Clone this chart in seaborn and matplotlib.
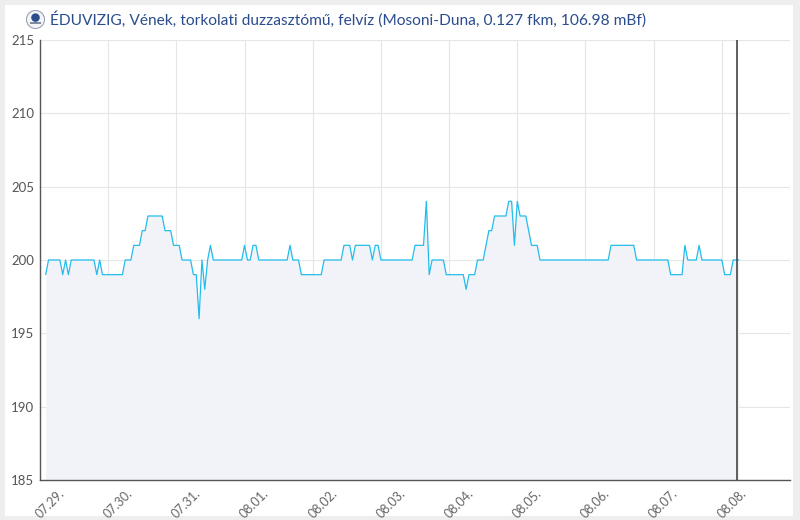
import matplotlib
matplotlib.use("Agg")
import matplotlib.pyplot as plt
import matplotlib.dates as mdates
import matplotlib.transforms as mtransforms
from matplotlib.patches import Rectangle, Circle
import numpy as np
import pandas as pd
import seaborn as sns

# ---- data ----
title = "ÉDUVIZIG, Vének, torkolati duzzasztómű, felvíz (Mosoni-Duna, 0.127 fkm, 106.98 mBf)"
start_time = "2024-07-29 02:00"
levels = [
    199, 200, 200, 200, 200, 200, 199, 200, 199, 200, 200, 200,
    200, 200, 200, 200, 200, 200, 199, 200, 199, 199, 199, 199,
    199, 199, 199, 199, 200, 200, 200, 201, 201, 201, 202, 202,
    203, 203, 203, 203, 203, 203, 202, 202, 202, 201, 201, 201,
    200, 200, 200, 200, 199, 199, 196, 200, 198, 200, 201, 200,
    200, 200, 200, 200, 200, 200, 200, 200, 200, 200, 201, 200,
    200, 201, 201, 200, 200, 200, 200, 200, 200, 200, 200, 200,
    200, 200, 201, 200, 200, 200, 199, 199, 199, 199, 199, 199,
    199, 199, 200, 200, 200, 200, 200, 200, 200, 201, 201, 201,
    200, 201, 201, 201, 201, 201, 201, 200, 201, 201, 200, 200,
    200, 200, 200, 200, 200, 200, 200, 200, 200, 200, 201, 201,
    201, 201, 204, 199, 200, 200, 200, 200, 200, 199, 199, 199,
    199, 199, 199, 199, 198, 199, 199, 199, 200, 200, 200, 201,
    202, 202, 203, 203, 203, 203, 203, 204, 204, 201, 204, 203,
    203, 203, 202, 201, 201, 201, 200, 200, 200, 200, 200, 200,
    200, 200, 200, 200, 200, 200, 200, 200, 200, 200, 200, 200,
    200, 200, 200, 200, 200, 200, 200, 201, 201, 201, 201, 201,
    201, 201, 201, 201, 200, 200, 200, 200, 200, 200, 200, 200,
    200, 200, 200, 200, 199, 199, 199, 199, 199, 201, 200, 200,
    200, 200, 201, 200, 200, 200, 200, 200, 200, 200, 200, 199,
    199, 199, 200, 200, 200,
]
tick_days = ["2024-07-29", "2024-07-30", "2024-07-31", "2024-08-01", "2024-08-02",
             "2024-08-03", "2024-08-04", "2024-08-05", "2024-08-06", "2024-08-07",
             "2024-08-08"]
tick_labels = ["07.29.", "07.30.", "07.31.", "08.01.", "08.02.", "08.03.",
               "08.04.", "08.05.", "08.06.", "08.07.", "08.08."]
x_start = "2024-07-29 00:00"
x_end = "2024-08-09 00:00"
now_time = "2024-08-08 05:20"
y_ticks = [185, 190, 195, 200, 205, 210, 215]

times = pd.date_range(start_time, periods=len(levels), freq="h")
df = pd.DataFrame({"time": times, "level": levels})

# ---- style ----
sns.set_style("white")
plt.rcParams["font.family"] = ["Lato", "DejaVu Sans"]

fig = plt.figure(figsize=(8, 5.2), dpi=100)
fig.patch.set_facecolor("#eeeeee")
card = Rectangle((5 / 800, 4 / 520), 788 / 800, 511 / 520,
                 transform=fig.transFigure, facecolor="white",
                 edgecolor="none", zorder=-10)
fig.patches.append(card)

ax = fig.add_axes([40 / 800, 40 / 520, 750 / 800, 440 / 520])
ax.set_zorder(2)
ax.set_facecolor("white")

line_color = "#22bdec"
ax.fill_between(df["time"], df["level"], 185, color="#f2f3f8", linewidth=0, zorder=1)
sns.lineplot(data=df, x="time", y="level", ax=ax, color=line_color, linewidth=0.9, zorder=3)

ax.set_xlim(pd.Timestamp(x_start), pd.Timestamp(x_end))
ax.set_ylim(185, 215)
ax.set_yticks(y_ticks)
ax.set_xticks([pd.Timestamp(d) for d in tick_days])
ax.set_xticklabels(tick_labels, rotation=45, ha="center")

ax.grid(True, color="#e6e6e6", linewidth=0.8, zorder=0)
ax.axvline(pd.Timestamp(x_end), color="#e6e6e6", linewidth=0.8, zorder=0)
ax.axvline(pd.Timestamp(now_time), color="#444444", linewidth=1.2, zorder=4)
ax.set_axisbelow(True)

for s in ["top", "right"]:
    ax.spines[s].set_visible(False)
for s in ["left", "bottom"]:
    ax.spines[s].set_color("#555555")
    ax.spines[s].set_linewidth(1.0)

ax.tick_params(axis="x", direction="in", length=6, width=0.8, color="#555555",
               labelsize=9, labelcolor="#666666", pad=5)
ax.tick_params(axis="y", direction="in", length=4, width=0.8, color="#555555",
               labelsize=9.5, labelcolor="#555555", pad=4)
ax.set_xlabel("")
ax.set_ylabel("")

offset = mtransforms.ScaledTranslation(10 / 100, 0, fig.dpi_scale_trans)
for tick in ax.xaxis.get_major_ticks():
    tick.label1.set_transform(tick.label1.get_transform() + offset)

# title + logo
fig.text(50 / 800, 1 - 19 / 520, title, fontsize=11.2, color="#2b4d8d",
         ha="left", va="center")
lax = fig.add_axes([26 / 800, 1 - 29 / 520, 19 / 800, 19 / 520])
lax.set_xlim(-1, 1)
lax.set_ylim(-1, 1)
lax.axis("off")
lax.add_patch(Circle((0, 0), 0.95, facecolor="#f4f5f7", edgecolor="#9aa3b5", linewidth=0.8))
lax.add_patch(Circle((0, 0.2), 0.45, facecolor="#2b4d8d", edgecolor="none"))
lax.add_patch(Rectangle((-0.55, -0.45), 1.1, 0.2, facecolor="#7f8aa3", edgecolor="none"))

fig.savefig("out.png", dpi=100, facecolor=fig.get_facecolor())
